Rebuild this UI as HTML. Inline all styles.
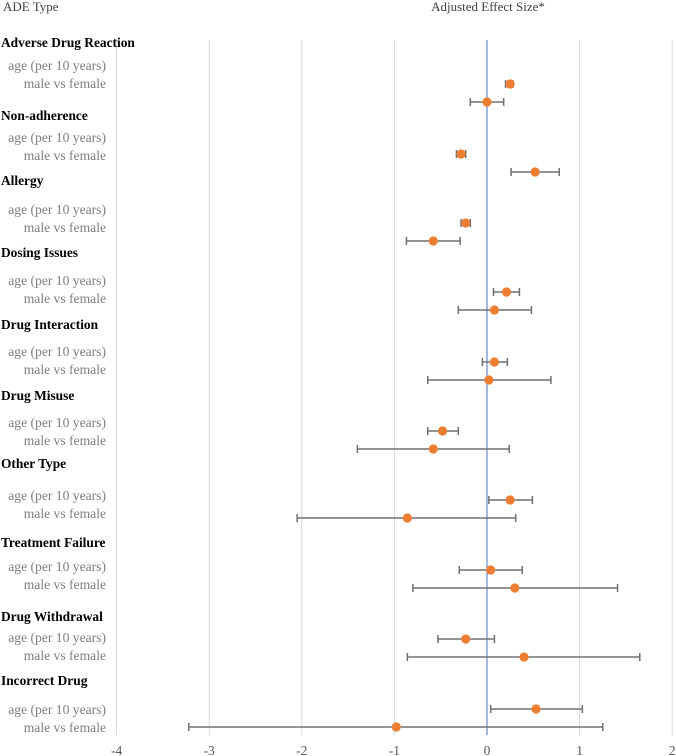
<!DOCTYPE html>
<html><head><meta charset="utf-8"><style>
html,body{margin:0;padding:0;background:#fff;width:676px;height:756px;overflow:hidden}
svg{display:block;font-family:"Liberation Serif",serif}
</style></head><body>
<svg id="chart" width="676" height="756">
<text x="3" y="11" font-size="13" fill="#404040">ADE Type</text>
<text x="488" y="11" font-size="13" fill="#404040" text-anchor="middle">Adjusted Effect Size*</text>
<g id="grid"></g><g id="labels"></g><g id="marks"></g>
</svg>
<script>
const groups=["Adverse Drug Reaction","Non-adherence","Allergy","Dosing Issues","Drug Interaction","Drug Misuse","Other Type","Treatment Failure","Drug Withdrawal","Incorrect Drug"];
const ageEst=[0.25,-0.28,-0.23,0.21,0.08,-0.48,0.25,0.04,-0.23,0.53];
const ageLo=[0.2,-0.33,-0.28,0.07,-0.05,-0.64,0.02,-0.3,-0.53,0.04];
const ageHi=[0.28,-0.23,-0.18,0.35,0.22,-0.31,0.49,0.38,0.08,1.03];
const sexEst=[0,0.52,-0.58,0.08,0.02,-0.58,-0.86,0.3,0.4,-0.98];
const sexLo=[-0.18,0.26,-0.87,-0.31,-0.64,-1.4,-2.05,-0.8,-0.86,-3.22];
const sexHi=[0.18,0.78,-0.29,0.48,0.69,0.24,0.31,1.41,1.65,1.25];
const ticks=[-4,-3,-2,-1,0,1,2];
// layout (pixel rows)
const headerY=[43,116,181,253,325,396,464,543,617,681];
const labelY=[66,138,210,281,352,423,496,567,638,710];
const markY=[84,154,223,292,362,431,500,570,639,709];
const NS="http://www.w3.org/2000/svg";
const x=v=>487+v*92.6;
function mk(tag,attrs,parent,txt){const e=document.createElementNS(NS,tag);for(const k in attrs)e.setAttribute(k,attrs[k]);if(txt!==undefined)e.textContent=txt;document.getElementById(parent).appendChild(e);return e;}
ticks.forEach(t=>{
 const l=mk('line',{x1:x(t),x2:x(t),y1:40,y2:735,stroke:t===0?'#4472c4':'#d9d9d9','stroke-width':1},'grid');
 
 
 const tx=mk('text',{x:x(t),y:755,'font-size':13.5,fill:'#595959','text-anchor':'middle'},'grid',String(t));
 
 
});
groups.forEach((g,i)=>{
 const ht=mk('text',{x:1,y:headerY[i]+4,'font-size':13.4,'font-weight':'bold',fill:'#000'},'labels',g);
 
 
 const ay=labelY[i], sy=labelY[i]+18;
 const a=mk('text',{x:106,y:ay+4,'font-size':13.6,fill:'#7f7f7f','text-anchor':'end'},'labels','age (per 10 years)');
 
 
 const s=mk('text',{x:106,y:sy+4,'font-size':13.6,fill:'#7f7f7f','text-anchor':'end'},'labels','male vs female');
 
 
 const rows=[[ageEst[i],ageLo[i],ageHi[i],markY[i]],[sexEst[i],sexLo[i],sexHi[i],markY[i]+18]];
 rows.forEach(r=>{
  const [e,lo,hi,y]=r;
  const p=mk('path',{d:`M${x(lo)},${y}H${x(hi)}M${x(lo)},${y-4}V${y+4}M${x(hi)},${y-4}V${y+4}`,stroke:'#707070','stroke-width':1.5,fill:'none'},'marks');
  
  
  const c=mk('circle',{cx:x(e),cy:y,r:4.6,fill:'#ed7d31'},'marks');
  
  
 });
});
</script>
</body></html>
